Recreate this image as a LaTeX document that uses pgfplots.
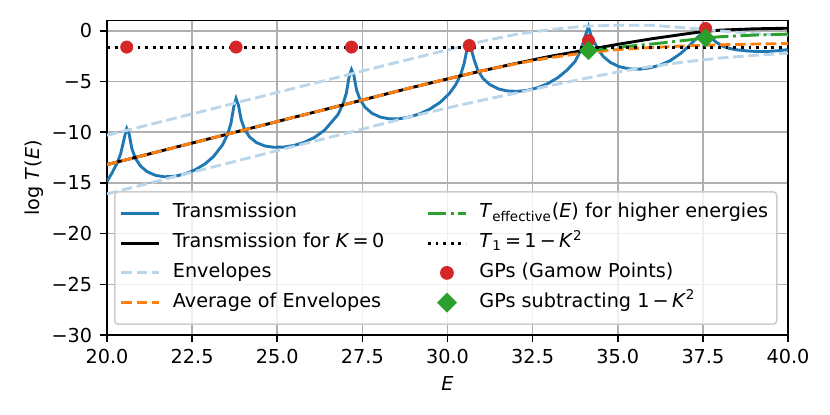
\documentclass[border=0pt]{standalone}
\usepackage{fontspec}
\setmainfont{DejaVu Sans}
\usepackage{pgfplots}
\pgfplotsset{compat=1.18}
\definecolor{tabblue}{RGB}{31,119,180}
\definecolor{taborange}{RGB}{255,127,14}
\definecolor{tabgreen}{RGB}{44,160,44}
\definecolor{tabred}{RGB}{214,39,40}
\definecolor{envblue}{RGB}{187,214,233}
\definecolor{gridgray}{RGB}{176,176,176}
\definecolor{legendgray}{RGB}{204,204,204}
\newcommand{\fs}{\fontsize{10.67}{12.8}\selectfont}
\pgfplotsset{markleg/.style={legend image code/.code={\draw[sharp corners,draw opacity=1,fill opacity=1,##1] plot coordinates {(10.6pt,0pt)};}}}
\begin{document}
\begin{tikzpicture}
\useasboundingbox (-59.4pt,-44.4pt) rectangle (401.4pt,186pt);
\begin{axis}[
  at={(0pt,0pt)}, anchor=south west,
  width=378.1pt, height=174.5pt, scale only axis,
  xmin=20, xmax=40, ymin=-30, ymax=1,
  xtick={20,22.5,25,27.5,30,32.5,35,37.5,40},
  xticklabels={20.0,22.5,25.0,27.5,30.0,32.5,35.0,37.5,40.0},
  ytick={-30,-25,-20,-15,-10,-5,0},
  yticklabels={−30,−25,−20,−15,−10,−5,0},
  tick pos=left, tick align=outside, major tick length=3.73pt,
  every tick/.style={black, line width=0.85pt},
  axis line style={line width=0.85pt},
  grid=major, grid style={color=gridgray, line width=0.85pt},
  tick label style={font=\fs},
  xticklabel style={anchor=base, yshift=-12.2pt},
  yticklabel style={anchor=east, xshift=-1pt},
  xlabel={\textit{E}}, ylabel={log \textit{T}(\textit{E})},
  label style={font=\fs},
  xlabel style={at={(axis description cs:0.5,0)}, anchor=center, yshift=-26.8pt},
  ylabel style={at={([xshift=-40.5pt]axis description cs:0,0.5)}, anchor=center},
  legend columns=2,
  legend cell align=left,
  legend image code/.code={\draw[mark repeat=2,mark phase=2,sharp corners,draw opacity=1,fill opacity=1,#1] plot coordinates {(0pt,0pt) (10.6pt,0pt) (21.2pt,0pt)};},
  legend style={at={(0.0103,0.458)}, anchor=north west,
    draw=legendgray, line width=0.85pt, rounded corners=2pt,
    fill=white, fill opacity=0.8, text opacity=1, draw opacity=1,
    font=\fs,
    inner xsep=2.8pt, inner ysep=6pt, row sep=4.5pt,
    nodes={text height=8pt, text depth=3pt, inner ysep=0.5pt},
    /tikz/every even column/.append style={column sep=21.4pt},
    /tikz/every odd column/.append style={column sep=4.65pt}},
]
% Transmission
\addplot[tabblue, line width=1.6pt, forget plot] coordinates {
(20.00,-14.86) (20.15,-14.0) (20.30,-13.0) (20.40,-12.15) (20.48,-11.0) (20.53,-10.25) (20.58,-9.64)
(20.65,-10.16) (20.73,-11.61) (20.83,-12.54) (20.98,-13.32) (21.18,-13.89) (21.43,-14.26) (21.68,-14.39)
(21.98,-14.35) (22.28,-14.12) (22.58,-13.72) (22.88,-13.12) (23.13,-12.39) (23.39,-11.26) (23.54,-10.23)
(23.64,-9.13) (23.72,-7.55) (23.79,-6.67)
(23.86,-7.32) (23.94,-8.77) (24.04,-9.69) (24.19,-10.48) (24.39,-11.02) (24.64,-11.36) (24.89,-11.48)
(25.19,-11.46) (25.49,-11.3) (25.79,-11.0) (26.09,-10.52) (26.39,-9.8) (26.78,-8.27) (26.93,-7.23)
(27.03,-6.13) (27.11,-4.54) (27.18,-3.81)
(27.25,-4.39) (27.33,-5.84) (27.43,-6.76) (27.58,-7.54) (27.78,-8.13) (28.03,-8.51) (28.28,-8.67)
(28.58,-8.67) (28.88,-8.50) (29.18,-8.19) (29.48,-7.72) (29.78,-7.06) (30.05,-6.2) (30.24,-5.32) (30.39,-4.29)
(30.49,-3.20) (30.57,-1.85) (30.64,-1.2)
(30.71,-1.95) (30.79,-2.94) (30.89,-3.88) (31.04,-4.68) (31.24,-5.30) (31.49,-5.72) (31.74,-5.92)
(32.04,-5.97) (32.34,-5.87) (32.64,-5.61) (32.94,-5.21) (33.24,-4.62) (33.50,-3.9) (33.74,-3.05)
(33.89,-2.1) (33.99,-1.1) (34.07,-0.25) (34.14,0.42)
(34.21,-0.45) (34.26,-0.85) (34.34,-1.3) (34.44,-1.95) (34.59,-2.58) (34.79,-3.13) (35.04,-3.53)
(35.34,-3.75) (35.64,-3.78) (35.94,-3.65) (36.24,-3.38) (36.54,-2.94) (36.84,-2.25) (37.09,-1.5)
(37.28,-0.85) (37.42,-0.4) (37.52,-0.05) (37.58,0.15)
(37.64,-0.2) (37.76,-0.72) (37.90,-1.15) (38.10,-1.54) (38.30,-1.75) (38.49,-1.87) (38.80,-1.98)
(39.10,-2.04) (39.40,-2.03) (39.70,-1.96) (40.00,-1.85)
};
% Transmission for K=0
\addplot[black, line width=1.6pt, forget plot] coordinates {
(20,-13.19) (21,-12.345) (22,-11.49) (23,-10.645) (24,-9.795) (25,-8.945) (26,-8.095) (27,-7.25)
(28,-6.395) (29,-5.55) (30,-4.74) (31,-3.95) (32,-3.22) (33,-2.52) (34,-1.93) (35,-1.33) (36,-0.78)
(37,-0.3) (37.5,-0.07) (38,0.07) (39,0.2) (40,0.26)
};
% Envelopes
\addplot[envblue, line width=1.6pt, dash pattern=on 5.92pt off 2.56pt, forget plot] coordinates {
(20,-10.30) (21,-9.46) (22,-8.61) (23,-7.77) (24,-6.92) (25,-6.08) (26,-5.23) (27,-4.39) (28,-3.54)
(29,-2.70) (30,-1.88) (31,-1.05) (32,-0.35) (33,0.12) (34,0.45) (35,0.56) (36,0.55) (37,0.30)
(38,0.0) (39,-0.28) (40,-0.42)
};
\addplot[envblue, line width=1.6pt, dash pattern=on 5.92pt off 2.56pt, forget plot] coordinates {
(20,-16.08) (21,-15.23) (22,-14.37) (23,-13.52) (24,-12.67) (25,-11.81) (26,-10.96) (27,-10.11)
(28,-9.25) (29,-8.40) (30,-7.6) (31,-6.85) (32,-6.15) (33,-5.42) (34,-4.72) (35,-4.05) (36,-3.5)
(37,-3.05) (38,-2.68) (39,-2.42) (40,-2.2)
};
% Average of envelopes
\addplot[taborange, line width=1.6pt, dash pattern=on 5.92pt off 2.56pt, forget plot] coordinates {
(20,-13.19) (21,-12.345) (22,-11.49) (23,-10.645) (24,-9.795) (25,-8.945) (26,-8.095) (27,-7.25)
(28,-6.395) (29,-5.55) (30,-4.74) (31,-3.95) (32,-3.25) (33,-2.65) (34,-2.18) (35,-1.85) (36,-1.64)
(37,-1.48) (38,-1.38) (39,-1.3) (40,-1.25)
};
% T effective
\addplot[tabgreen, line width=1.6pt, dash pattern=on 10.24pt off 2.56pt on 1.6pt off 2.56pt, forget plot] coordinates {
(34.14,-1.95) (35,-1.62) (36,-1.3) (37,-0.93) (37.58,-0.7) (38,-0.58) (39,-0.42) (40,-0.32)
};
% T1 = 1 - K^2
\addplot[black, line width=1.6pt, dash pattern=on 1.6pt off 2.64pt, forget plot] coordinates {
(20,-1.62) (40,-1.62)
};
% GPs
\addplot[only marks, mark=*, mark size=3.4pt, color=tabred, forget plot] coordinates {
(20.58,-1.6) (23.79,-1.6) (27.18,-1.6) (30.64,-1.45) (34.14,-0.97) (37.58,0.23)
};
% GPs subtracting
\addplot[only marks, mark=square*, mark size=3.5pt, mark options={rotate=45}, color=tabgreen, forget plot] coordinates {
(34.14,-1.95) (37.58,-0.7)
};
% legend (row-major for two columns)
\addlegendimage{tabblue, line width=1.6pt}
\addlegendentry{Transmission}
\addlegendimage{tabgreen, line width=1.6pt, dash pattern=on 10.24pt off 2.56pt on 1.6pt off 2.56pt}
\addlegendentry{\textit{T}\textsubscript{effective}(\textit{E}) for higher energies}
\addlegendimage{black, line width=1.6pt}
\addlegendentry{Transmission for \textit{K}\,=\,0}
\addlegendimage{black, line width=1.6pt, dash pattern=on 1.6pt off 2.64pt}
\addlegendentry{\textit{T}\textsubscript{1}\,=\,1\,−\,\textit{K}\textsuperscript{2}}
\addlegendimage{envblue, line width=1.6pt, dash pattern=on 5.92pt off 2.56pt}
\addlegendentry{Envelopes}
\addlegendimage{markleg, only marks, mark=*, mark size=3.4pt, color=tabred}
\addlegendentry{GPs (Gamow Points)}
\addlegendimage{taborange, line width=1.6pt, dash pattern=on 5.92pt off 2.56pt}
\addlegendentry{Average of Envelopes}
\addlegendimage{markleg, only marks, mark=square*, mark size=3.5pt, mark options={rotate=45}, color=tabgreen}
\addlegendentry{GPs subtracting 1\,−\,\textit{K}\textsuperscript{2}}
\end{axis}
\end{tikzpicture}
\end{document}
